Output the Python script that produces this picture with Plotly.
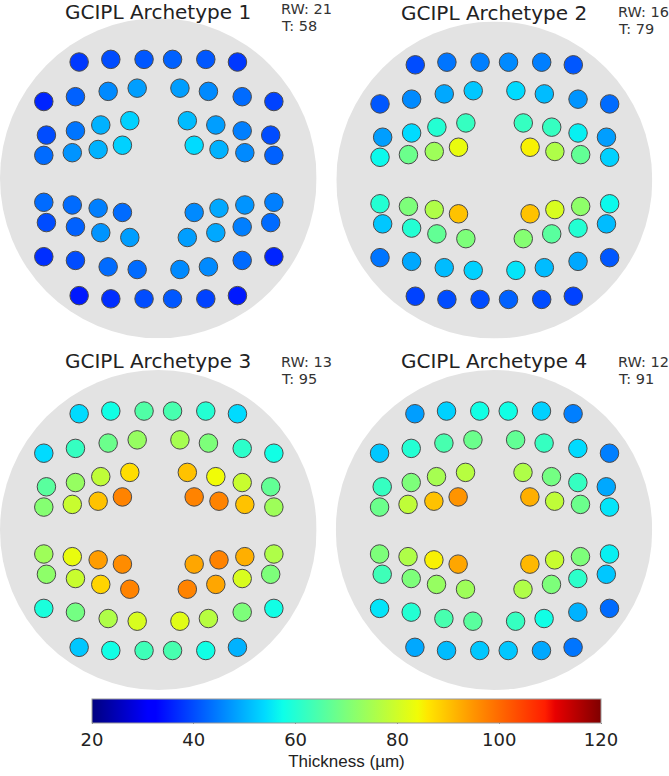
import plotly.graph_objects as go

W, H = 669, 776

# field positions (degrees, top row to bottom row)
field_x = [-15.0, -9.0, -2.7, 2.7, 9.0, 15.0,
           -21.7, -15.7, -9.5, -4.0, 4.1, 9.5, 15.9, 21.9,
           -21.2, -15.7, -10.9, -5.4, 5.5, 10.9, 15.9, 21.3,
           -21.7, -16.3, -11.4, -6.8, 6.8, 11.5, 16.4, 21.9,
           -21.7, -16.3, -11.4, -6.8, 6.8, 11.5, 16.4, 21.9,
           -21.2, -15.7, -10.9, -5.4, 5.5, 10.9, 15.9, 21.3,
           -21.7, -15.7, -9.5, -4.0, 4.1, 9.5, 15.9, 21.9,
           -15.0, -9.0, -2.7, 2.7, 9.0, 15.0]
field_y = [21.8, 22.3, 22.3, 22.3, 22.3, 21.8,
           14.4, 15.3, 16.3, 16.9, 16.9, 16.3, 15.3, 14.4,
           8.1, 8.9, 10.0, 10.8, 10.8, 10.0, 8.9, 8.1,
           4.3, 4.8, 5.4, 6.2, 6.2, 5.4, 4.8, 4.3,
           -4.5, -5.0, -5.6, -6.4, -6.4, -5.6, -5.0, -4.5,
           -8.3, -9.1, -10.2, -11.1, -11.1, -10.2, -9.1, -8.3,
           -14.7, -15.4, -16.6, -17.1, -17.1, -16.6, -15.4, -14.7,
           -22.0, -22.6, -22.6, -22.6, -22.6, -22.0]

archetype_1 = [38, 40, 41, 42, 41, 38,
               36, 42, 46, 48, 48, 46, 43, 39,
               40, 44, 50, 53, 51, 48, 45, 40,
               43, 47, 50, 53, 54, 50, 46, 42,
               43, 43, 45, 43, 46, 49, 47, 45,
               40, 42, 47, 48, 48, 49, 45, 43,
               37, 40, 43, 43, 46, 46, 43, 36,
               35, 37, 40, 41, 39, 35]
archetype_2 = [40, 44, 45, 46, 45, 41,
               41, 46, 49, 52, 54, 51, 47, 43,
               48, 54, 60, 62, 62, 62, 56, 48,
               57, 68, 74, 83, 85, 76, 67, 53,
               60, 70, 76, 90, 90, 81, 72, 57,
               52, 60, 67, 70, 71, 66, 60, 51,
               44, 49, 51, 53, 55, 51, 49, 41,
               39, 40, 40, 42, 40, 39]
archetype_3 = [54, 58, 65, 64, 60, 54,
               54, 62, 68, 73, 75, 70, 61, 58,
               66, 73, 78, 87, 90, 84, 79, 67,
               71, 79, 90, 97, 97, 97, 90, 74,
               74, 83, 94, 96, 93, 97, 92, 76,
               72, 79, 88, 97, 97, 93, 81, 70,
               59, 69, 76, 81, 82, 77, 70, 58,
               52, 58, 63, 64, 58, 50]
archetype_4 = [48, 53, 58, 58, 53, 45,
               52, 60, 64, 68, 67, 62, 54, 45,
               62, 70, 75, 77, 76, 69, 62, 49,
               68, 78, 90, 95, 92, 78, 68, 55,
               70, 76, 85, 93, 91, 79, 70, 56,
               63, 70, 73, 74, 76, 70, 61, 52,
               55, 60, 64, 66, 62, 58, 50, 43,
               49, 51, 52, 52, 49, 44]

panel_titles = ['GCIPL Archetype 1', 'GCIPL Archetype 2', 'GCIPL Archetype 3', 'GCIPL Archetype 4']
rw_labels = ['RW: 21', 'RW: 16', 'RW: 13', 'RW: 12']
t_labels = ['T: 58', 'T: 79', 'T: 95', 'T: 91']
cbar_ticks = [20, 40, 60, 80, 100, 120]

# matplotlib jet
jet = [[0, '#00007f'], [0.11, '#0000ff'], [0.125, '#0000ff'], [0.34, '#00dbff'], [0.375, '#0dffe9'],
       [0.5, '#7dff7a'], [0.64, '#f1fc06'], [0.66, '#ffe600'], [0.75, '#ff9400'], [0.89, '#ff1e00'],
       [0.91, '#e80000'], [1, '#7f0000']]

# disc centres in page pixels: cx, cy, rx, ry
discs = [(158.3, 178.3, 158.3, 160), (494.3, 180, 158, 158.5),
         (158.3, 530, 158.3, 160), (494, 530, 158.2, 160)]
title_pos = [(158, 12), (494, 13), (158, 361), (494, 361)]
rw_pos = [(279, 9.5), (616, 12), (279, 362), (616, 362)]
t_pos = [(279, 26.5), (616, 29), (279, 379), (616, 379)]

fig = go.Figure()

for i, vals in enumerate([archetype_1, archetype_2, archetype_3, archetype_4]):
    cx, cy, rx, ry = discs[i]
    n = '' if i == 0 else str(i + 1)
    fig.add_trace(go.Scatter(x=field_x, y=field_y, mode='markers', xaxis='x' + n, yaxis='y' + n,
                             showlegend=False,
                             marker=dict(size=18.5, color=vals, coloraxis='coloraxis',
                                         line=dict(color='#4a4a4a', width=1))))
    fig.update_layout({
        'xaxis' + n: dict(domain=[(cx - rx) / W, (cx + rx) / W], range=[-30, 30], visible=False, anchor='y' + n),
        'yaxis' + n: dict(domain=[1 - (cy + ry) / H, 1 - (cy - ry) / H], range=[-30, 30], visible=False, anchor='x' + n),
    })
    fig.add_shape(type='circle', xref='x' + n, yref='y' + n, x0=-30, x1=30, y0=-30, y1=30,
                  fillcolor='#e3e3e3', line_width=0, layer='below')
    fig.add_annotation(text=panel_titles[i], xref='paper', yref='paper', showarrow=False,
                       x=title_pos[i][0] / W, y=1 - title_pos[i][1] / H, xanchor='center', yanchor='middle',
                       font=dict(family='DejaVu Sans', size=20, color='#222222'))
    fig.add_annotation(text=rw_labels[i], xref='paper', yref='paper', showarrow=False,
                       x=rw_pos[i][0] / W, y=1 - rw_pos[i][1] / H, xanchor='left', yanchor='middle',
                       font=dict(family='DejaVu Sans', size=14.5, color='#333333'))
    fig.add_annotation(text=t_labels[i], xref='paper', yref='paper', showarrow=False,
                       x=t_pos[i][0] / W, y=1 - t_pos[i][1] / H, xanchor='left', yanchor='middle',
                       font=dict(family='DejaVu Sans', size=14.5, color='#333333'))

fig.update_layout(
    width=W, height=H,
    margin=dict(l=0, r=0, t=0, b=0, autoexpand=False),
    paper_bgcolor='white', plot_bgcolor='rgba(0,0,0,0)',
    coloraxis=dict(
        colorscale=jet, cmin=20, cmax=120,
        colorbar=dict(orientation='h', lenmode='pixels', len=509, thicknessmode='pixels', thickness=24,
                      x=346.5 / W, xanchor='center', y=1 - 699 / H, yanchor='top', ypad=0, xpad=0,
                      tickvals=cbar_ticks, ticks='outside', ticklen=1, tickcolor='#888888',
                      outlinecolor='#999999', outlinewidth=1,
                      tickfont=dict(family='DejaVu Sans', size=18, color='#222222'),
                      title=dict(text='Thickness (µm)', side='bottom',
                                 font=dict(family='Liberation Sans', size=17, color='#222222'))),
    ),
)

# page has a default 8px body margin, drop it so the chart fills the window
fig.write_html("out.html", config={'displayModeBar': False}, post_script="document.body.style.margin = '0';")
